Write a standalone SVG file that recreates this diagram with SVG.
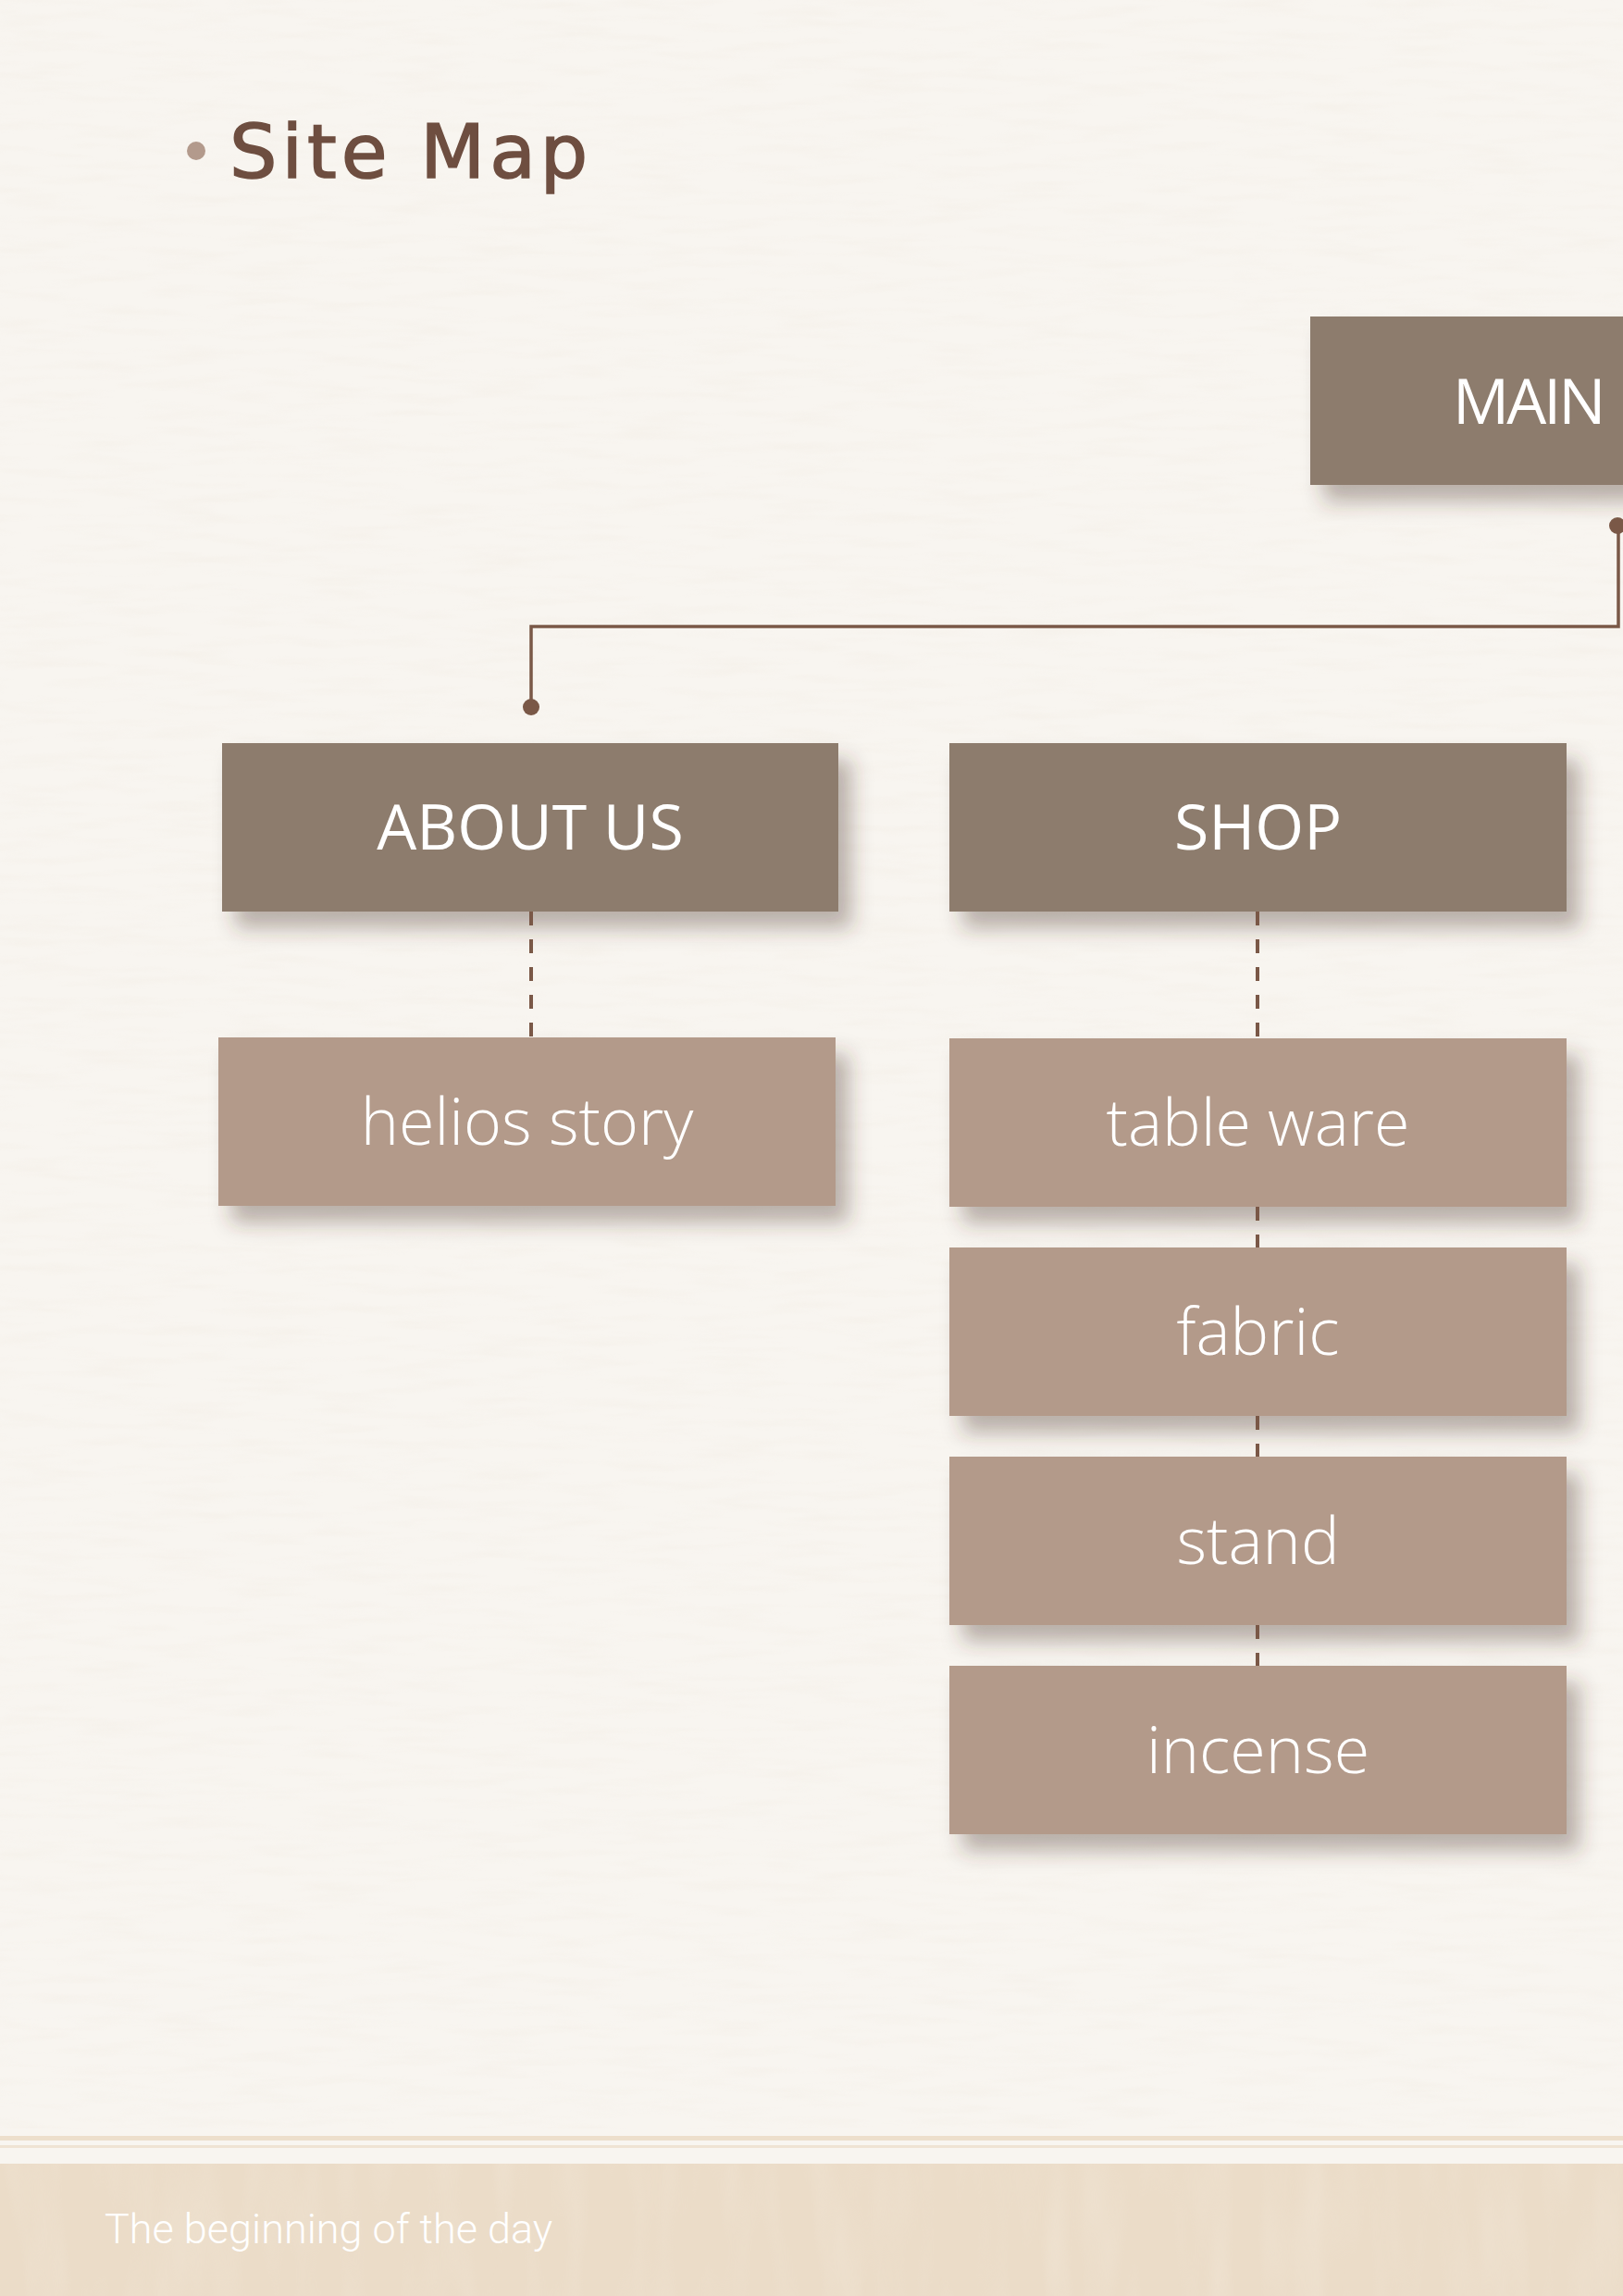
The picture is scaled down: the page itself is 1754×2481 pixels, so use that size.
<svg xmlns="http://www.w3.org/2000/svg" width="1754" height="2481" viewBox="0 0 1754 2481">
  <defs>
    <filter id="shadow" x="-10%" y="-20%" width="130%" height="180%">
      <feDropShadow dx="14" dy="18" stdDeviation="11" flood-color="#4a3428" flood-opacity="0.36"/>
    </filter>
    <filter id="paper" x="0" y="0" width="100%" height="100%">
      <feTurbulence type="fractalNoise" baseFrequency="0.012 0.09" numOctaves="3" seed="7" result="n"/>
      <feColorMatrix in="n" type="matrix" values="0 0 0 0 0.86  0 0 0 0 0.80  0 0 0 0 0.72  1.3 0 0 0 -0.58"/>
    </filter>
    <filter id="mottle" x="0" y="0" width="100%" height="100%">
      <feTurbulence type="fractalNoise" baseFrequency="0.03 0.006" numOctaves="2" seed="3" result="n"/>
      <feColorMatrix in="n" type="matrix" values="0 0 0 0 0.96  0 0 0 0 0.91  0 0 0 0 0.84  1.2 0 0 0 -0.5"/>
    </filter>
  </defs>
  <style>
    .dark { fill: #8d7b6d; filter: url(#shadow); }
    .light { fill: #b39a8a; filter: url(#shadow); }
    .cap { font-family: "Open Sans", "Noto Sans", "DejaVu Sans", sans-serif; font-size: 68px; font-weight: 400; fill: #ffffff; text-anchor: middle; }
    .low { font-family: "Open Sans", "Noto Sans", "DejaVu Sans", sans-serif; font-size: 70px; font-weight: 300; fill: #ffffff; text-anchor: middle; }
    .solid { fill: none; stroke: #7a5847; stroke-width: 3.5; }
    .dash { fill: none; stroke: #7a5847; stroke-width: 4; stroke-dasharray: 15 15; }
    .dot { fill: #7a5847; }
  </style>

  <!-- background -->
  <rect x="0" y="0" width="1754" height="2481" fill="#f8f5f0"/>
  <rect x="0" y="0" width="1754" height="2300" filter="url(#paper)" opacity="0.4"/>

  <!-- title -->
  <g id="title">
    <circle cx="212" cy="163" r="10" fill="#b39a8c"/>
    <text x="248" y="192" font-family="DejaVu Sans, sans-serif" font-size="81" letter-spacing="5" fill="#6e4e40" stroke="#6e4e40" stroke-width="1.6">Site Map</text>
  </g>

  <!-- nodes -->
  <g id="node-main">
    <rect class="dark" x="1416" y="342" width="380" height="182"/>
    <text class="cap" x="1570" y="458" style="text-anchor:start" letter-spacing="-3">MAIN</text>
  </g>
  <g id="node-about">
    <rect class="dark" x="240" y="803" width="666" height="182"/>
    <text class="cap" x="573" y="918">ABOUT US</text>
  </g>
  <g id="node-shop">
    <rect class="dark" x="1026" y="803" width="667" height="182"/>
    <text class="cap" x="1359.5" y="918">SHOP</text>
  </g>
  <g id="node-helios">
    <rect class="light" x="236" y="1121" width="667" height="182"/>
    <text class="low" x="569.5" y="1237">helios story</text>
  </g>
  <g id="node-tableware">
    <rect class="light" x="1026" y="1122" width="667" height="182"/>
    <text class="low" x="1359.5" y="1238">table ware</text>
  </g>
  <g id="node-fabric">
    <rect class="light" x="1026" y="1348" width="667" height="182"/>
    <text class="low" x="1359.5" y="1464">fabric</text>
  </g>
  <g id="node-stand">
    <rect class="light" x="1026" y="1574" width="667" height="182"/>
    <text class="low" x="1359.5" y="1690">stand</text>
  </g>
  <g id="node-incense">
    <rect class="light" x="1026" y="1800" width="667" height="182"/>
    <text class="low" x="1359.5" y="1916">incense</text>
  </g>

  <!-- connectors -->
  <g id="connectors">
    <path class="solid" d="M1749 568 V677 H574 V764"/>
    <circle class="dot" cx="1748" cy="568" r="9"/>
    <circle class="dot" cx="574" cy="764" r="9"/>
    <line class="dash" x1="574" y1="985" x2="574" y2="1121"/>
    <line class="dash" x1="1359" y1="985" x2="1359" y2="1122"/>
    <line class="dash" x1="1359" y1="1304" x2="1359" y2="1348"/>
    <line class="dash" x1="1359" y1="1530" x2="1359" y2="1574"/>
    <line class="dash" x1="1359" y1="1756" x2="1359" y2="1800"/>
  </g>

  <!-- footer -->
  <g id="footer">
    <rect x="0" y="2308" width="1754" height="5" fill="#eddfcc"/>
    <rect x="0" y="2318" width="1754" height="3" fill="#efe3d3"/>
    <rect x="0" y="2338" width="1754" height="143" fill="#ebdcc8"/>
    <rect x="0" y="2338" width="1754" height="143" filter="url(#mottle)" opacity="0.35"/>
    <text x="113" y="2424" font-family="Roboto, 'Liberation Sans', sans-serif" font-size="45" font-weight="300" fill="#ffffff">The beginning of the day</text>
  </g>
</svg>
